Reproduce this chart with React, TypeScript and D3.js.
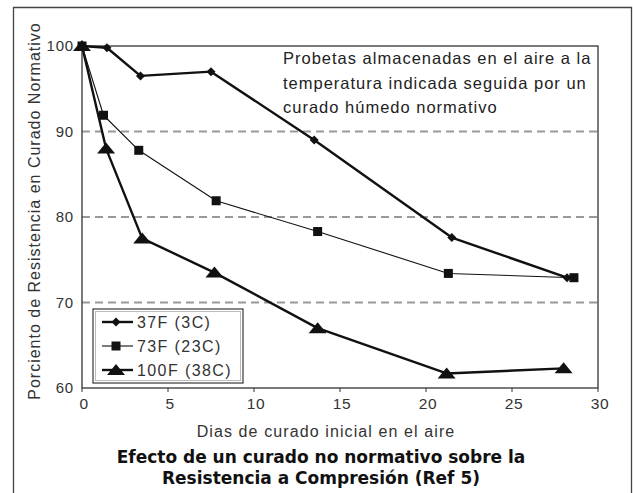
import React from "react";
import * as d3 from "d3";

const seriesNames = ["37F (3C)", "73F (23C)", "100F (38C)"];
const days37 = [0, 1.45, 3.4, 7.5, 13.5, 21.5, 28.2];
const vals37 = [100, 99.8, 96.5, 97.0, 89.0, 77.6, 72.9];
const days73 = [0, 1.25, 3.3, 7.8, 13.7, 21.3, 28.6];
const vals73 = [100, 91.9, 87.8, 81.9, 78.3, 73.4, 72.9];
const days100 = [0, 1.4, 3.5, 7.7, 13.7, 21.2, 28.0];
const vals100 = [100, 88.0, 77.5, 73.5, 67.0, 61.7, 62.3];
const xTicks = [0, 5, 10, 15, 20, 25, 30];
const yTicks = [60, 70, 80, 90, 100];
const gridValues = [70, 80, 90];
const noteLines = [
  "Probetas almacenadas en el aire a la",
  "temperatura indicada seguida por un",
  "curado húmedo normativo",
];
const xTitle = "Dias de curado inicial en el aire";
const yTitle = "Porciento de Resistencia en Curado Normativo";
const titleLines = [
  "Efecto de un curado no normativo sobre la",
  "Resistencia a Compresión (Ref 5)",
];

const FONT = "'Liberation Sans', Arial, sans-serif";

function Marker({ kind, x, y }: { kind: string; x: number; y: number }) {
  if (kind === "diamond") {
    return <path d={`M${x},${y - 4.5}L${x + 4.5},${y}L${x},${y + 4.5}L${x - 4.5},${y}Z`} fill="#111" />;
  }
  if (kind === "square") {
    return <rect x={x - 4.5} y={y - 4.5} width={9} height={9} fill="#111" />;
  }
  return <path d={`M${x},${y - 6}L${x + 9},${y + 5}L${x - 9},${y + 5}Z`} fill="#111" />;
}

export default function App() {
  const x = d3.scaleLinear().domain([0, 30]).range([82, 598]);
  const y = d3.scaleLinear().domain([60, 100]).range([388, 46]);
  const line = d3
    .line<[number, number]>()
    .x((d) => x(d[0]))
    .y((d) => y(d[1]));

  const series = [
    { name: seriesNames[0], pts: d3.zip(days37, vals37) as [number, number][], w: 2.4, kind: "diamond" },
    { name: seriesNames[1], pts: d3.zip(days73, vals73) as [number, number][], w: 1.1, kind: "square" },
    { name: seriesNames[2], pts: d3.zip(days100, vals100) as [number, number][], w: 2.4, kind: "triangle" },
  ];

  return (
    <svg width={633} height={493} style={{ position: "absolute", left: 0, top: 0, background: "#fff" }}>
      <rect x={0} y={0} width={633} height={493} fill="#fff" />
      {/* outer frame */}
      <path d="M13.5,493V7.5H631.5V493" fill="none" stroke="#444" strokeWidth={1.3} />

      {/* grid */}
      {gridValues.map((g) => (
        <line key={g} x1={x(0)} x2={x(30)} y1={y(g)} y2={y(g)} stroke="#999" strokeWidth={2} strokeDasharray="8,5" />
      ))}

      {/* plot box */}
      <rect x={x(0)} y={y(100)} width={x(30) - x(0)} height={y(60) - y(100)} fill="none" stroke="#333" strokeWidth={1.3} />

      {/* x ticks */}
      {xTicks.map((t) => (
        <g key={t}>
          <line x1={x(t)} x2={x(t)} y1={y(60)} y2={y(60) + 4} stroke="#333" strokeWidth={1} />
          <text x={x(t) + 2} y={409} textAnchor="middle" fontFamily={FONT} fontSize={15.5} fill="#333" letterSpacing={0.6}>
            {t}
          </text>
        </g>
      ))}
      {/* y ticks */}
      {yTicks.map((t) => (
        <text key={t} x={74} y={y(t) + 5} textAnchor="end" fontFamily={FONT} fontSize={15} fill="#333" letterSpacing={0.8}>
          {t}
        </text>
      ))}

      {/* series */}
      {series.map((s) => (
        <g key={s.name}>
          <path d={line(s.pts) || ""} fill="none" stroke="#111" strokeWidth={s.w} strokeLinejoin="round" />
          {s.pts.map((p, i) => (
            <Marker key={i} kind={s.kind} x={x(p[0])} y={y(p[1])} />
          ))}
        </g>
      ))}

      {/* note */}
      {noteLines.map((l, i) => (
        <text key={i} x={283} y={64 + i * 24.5} fontFamily={FONT} fontSize={16.5} fill="#222" letterSpacing={1}>
          {l}
        </text>
      ))}

      {/* legend */}
      <rect x={93} y={309} width={150} height={74} fill="#fff" stroke="#555" strokeWidth={1.4} />
      <rect x={95.5} y={311.5} width={145} height={69} fill="none" stroke="#bbb" strokeWidth={1} />
      {series.map((s, i) => {
        const ly = 322 + i * 24;
        return (
          <g key={s.name}>
            <line x1={102} x2={133} y1={ly} y2={ly} stroke="#111" strokeWidth={s.w} />
            <Marker kind={s.kind} x={116} y={ly} />
            <text x={137} y={ly + 6} fontFamily={FONT} fontSize={16} fill="#333" letterSpacing={1.4}>
              {s.name}
            </text>
          </g>
        );
      })}

      {/* axis titles */}
      <text x={326} y={437} textAnchor="middle" fontFamily={FONT} fontSize={16} fill="#333" letterSpacing={1.1}>
        {xTitle}
      </text>
      <text
        transform={`translate(40,${211}) rotate(-90)`}
        textAnchor="middle"
        fontFamily={FONT}
        fontSize={16}
        fill="#333"
        letterSpacing={1}
      >
        {yTitle}
      </text>

      {/* title */}
      {titleLines.map((l, i) => (
        <text
          key={i}
          x={321}
          y={463 + i * 21}
          textAnchor="middle"
          fontFamily="'DejaVu Sans', Verdana, sans-serif"
          fontWeight="bold"
          fontSize={17}
          fill="#111"
        >
          {l}
        </text>
      ))}
    </svg>
  );
}
